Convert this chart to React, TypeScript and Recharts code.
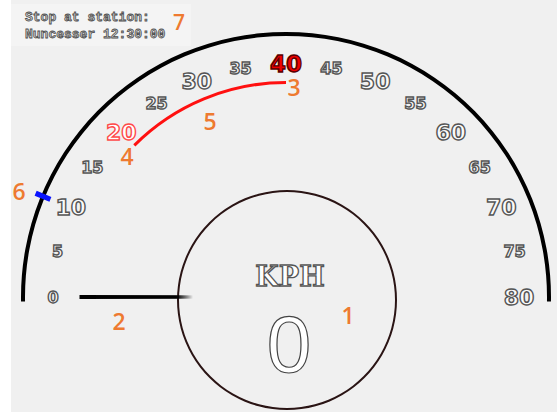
import React from 'react'
import { PieChart, Pie, Cell, RadialBarChart, RadialBar, PolarAngleAxis } from 'recharts'

// gauge scale
const GAUGE_MIN = 0
const GAUGE_MAX = 80
const TICKS = [0, 5, 10, 15, 20, 25, 30, 35, 40, 45, 50, 55, 60, 65, 70, 75, 80]
const MAJOR_TICKS = [10, 20, 30, 40, 50, 60, 70, 80]

// red zone on the inner arc, marker on the outer arc, current speed
const ZONE = [20, 40]
const MARKER = 10
const SPEED = 0
const UNIT = 'KPH'
const STATION_LINES = ['Stop at station:', 'Nuncesser 12:30:00']

const W = 557
const H = 415
const CX = 286
const CY = 297
const NO_MARGIN = { top: 0, right: 0, bottom: 0, left: 0 }

const MARKER_W = 0.5
const NEEDLE_W = 0.1
const DEG_PER_UNIT = 180 / (GAUGE_MAX - GAUGE_MIN)

const zoneData = [
  { name: 'before', value: ZONE[0] - GAUGE_MIN, fill: 'none' },
  { name: 'zone', value: ZONE[1] - ZONE[0], fill: '#ff1010' },
  { name: 'after', value: GAUGE_MAX - ZONE[1], fill: 'none' },
]

const markerData = [
  { name: 'before', value: MARKER - MARKER_W / 2, fill: 'none' },
  { name: 'marker', value: MARKER_W, fill: '#0a14ff' },
  { name: 'after', value: GAUGE_MAX - MARKER - MARKER_W / 2, fill: 'none' },
]

const needleData = [
  { name: 'before', value: SPEED - GAUGE_MIN, fill: 'none', stroke: 'none' },
  { name: 'needle', value: NEEDLE_W, fill: 'url(#needleFade)', stroke: 'url(#needleFade)' },
  { name: 'after', value: GAUGE_MAX - SPEED, fill: 'none', stroke: 'none' },
]

const speedData = [{ name: 'speed', value: SPEED }]

function GaugeTick(props: any) {
  const { x, y, payload } = props
  const v = payload.value as number
  const major = MAJOR_TICKS.includes(v)
  let fill = '#fbfbfb'
  let stroke = '#555'
  let size = major ? 22 : 16
  if (v === ZONE[1]) {
    fill = '#ee0000'
    stroke = '#5a0000'
    size = 23
  } else if (v === ZONE[0]) {
    fill = '#ffffff'
    stroke = '#ff4a4a'
  }
  return (
    <text
      x={x}
      y={y}
      textAnchor="middle"
      dominantBaseline="central"
      fontFamily="DejaVu Sans"
      fontWeight="bold"
      fontSize={size}
      fill={fill}
      stroke={stroke}
      strokeWidth={1.4}
    >
      {v}
    </text>
  )
}

const orange = {
  fontFamily: 'Open Sans',
  fontWeight: 600,
  fontSize: 23,
  fill: '#ee7a30',
}

export default function App() {
  return (
    <div style={{ position: 'absolute', left: 0, top: 0, width: W, height: H, background: '#ffffff' }}>
      <div style={{ position: 'absolute', left: 11, top: 0, width: W - 11, height: 412, background: '#f0f0f0' }} />
      <div style={{ position: 'absolute', left: 11, top: 4, width: 180, height: 42, background: '#f4f4f4' }} />
      <div style={{ position: 'absolute', left: 0, top: 0 }}>
        <PieChart width={W} height={H} margin={NO_MARGIN}>
          <defs>
            <linearGradient id="needleFade" x1="0" y1="0" x2="1" y2="0">
              <stop offset="0" stopColor="#000" stopOpacity={1} />
              <stop offset="0.85" stopColor="#000" stopOpacity={1} />
              <stop offset="1" stopColor="#000" stopOpacity={0} />
            </linearGradient>
          </defs>
          {/* center dial */}
          <Pie
            data={[{ name: 'dial', value: 1 }]}
            dataKey="value"
            cx={287}
            cy={300}
            startAngle={0}
            endAngle={360}
            innerRadius={108}
            outerRadius={110}
            fill="#2a1414"
            stroke="none"
            isAnimationActive={false}
          />
          {/* outer scale arc */}
          <Pie
            data={[{ name: 'scale', value: GAUGE_MAX - GAUGE_MIN }]}
            dataKey="value"
            cx={CX}
            cy={CY}
            startAngle={181}
            endAngle={-1}
            innerRadius={261}
            outerRadius={265}
            fill="#000"
            stroke="none"
            isAnimationActive={false}
          />
          {/* red zone */}
          <Pie
            data={zoneData}
            dataKey="value"
            cx={CX}
            cy={CY}
            startAngle={180}
            endAngle={0}
            innerRadius={213}
            outerRadius={216}
            stroke="none"
            isAnimationActive={false}
          >
            {zoneData.map((d) => (
              <Cell key={d.name} fill={d.fill} />
            ))}
          </Pie>
          {/* blue marker */}
          <Pie
            data={markerData}
            dataKey="value"
            cx={CX}
            cy={CY}
            startAngle={180}
            endAngle={0}
            innerRadius={255}
            outerRadius={271}
            stroke="none"
            isAnimationActive={false}
          >
            {markerData.map((d) => (
              <Cell key={d.name} fill={d.fill} />
            ))}
          </Pie>
          {/* needle */}
          <Pie
            data={needleData}
            dataKey="value"
            cx={CX}
            cy={CY}
            startAngle={180 + (NEEDLE_W * DEG_PER_UNIT) / 2}
            endAngle={-(NEEDLE_W * DEG_PER_UNIT) / 2}
            innerRadius={93}
            outerRadius={205}
            strokeWidth={3}
            isAnimationActive={false}
          >
            {needleData.map((d) => (
              <Cell key={d.name} fill={d.fill} stroke={d.stroke} />
            ))}
          </Pie>
        </PieChart>
      </div>
      <div style={{ position: 'absolute', left: 0, top: 0 }}>
        <RadialBarChart
          width={W}
          height={H}
          margin={NO_MARGIN}
          data={speedData}
          cx={CX}
          cy={CY}
          startAngle={180}
          endAngle={0}
          innerRadius={0}
          outerRadius={225}
        >
          <PolarAngleAxis
            type="number"
            domain={[GAUGE_MIN, GAUGE_MAX]}
            ticks={TICKS}
            tick={<GaugeTick />}
            axisLine={false}
            tickLine={false}
          />
          <RadialBar dataKey="value" fill="none" isAnimationActive={false} />
        </RadialBarChart>
      </div>
      <svg
        width={W}
        height={H}
        style={{ position: 'absolute', left: 0, top: 0, pointerEvents: 'none' }}
      >
        {STATION_LINES.map((line, i) => (
          <text
            key={line}
            x={25}
            y={21 + i * 17}
            fontFamily="Liberation Mono"
            fontWeight="bold"
            fontSize={13}
            fill="#d0d0d0"
            stroke="#505050"
            strokeWidth={0.8}
          >
            {line}
          </text>
        ))}
        <text
          x={290}
          y={286}
          textAnchor="middle"
          fontFamily="DejaVu Serif"
          fontWeight="bold"
          fontSize={27}
          fill="#ffffff"
          stroke="#555"
          strokeWidth={1.3}
        >
          {UNIT}
        </text>
        <text
          x={289}
          y={372}
          textAnchor="middle"
          fontFamily="Liberation Sans"
          fontSize={80}
          fill="#ffffff"
          stroke="#444"
          strokeWidth={1.2}
        >
          {SPEED}
        </text>
        <text x={348} y={315} textAnchor="middle" dominantBaseline="central" {...orange}>1</text>
        <text x={119} y={321} textAnchor="middle" dominantBaseline="central" {...orange}>2</text>
        <text x={294} y={87} textAnchor="middle" dominantBaseline="central" {...orange}>3</text>
        <text x={127} y={156} textAnchor="middle" dominantBaseline="central" {...orange}>4</text>
        <text x={210} y={121} textAnchor="middle" dominantBaseline="central" {...orange}>5</text>
        <text x={19} y={191} textAnchor="middle" dominantBaseline="central" {...orange}>6</text>
        <text x={179} y={22} textAnchor="middle" dominantBaseline="central" {...orange} fontSize={21}>7</text>
      </svg>
    </div>
  )
}
